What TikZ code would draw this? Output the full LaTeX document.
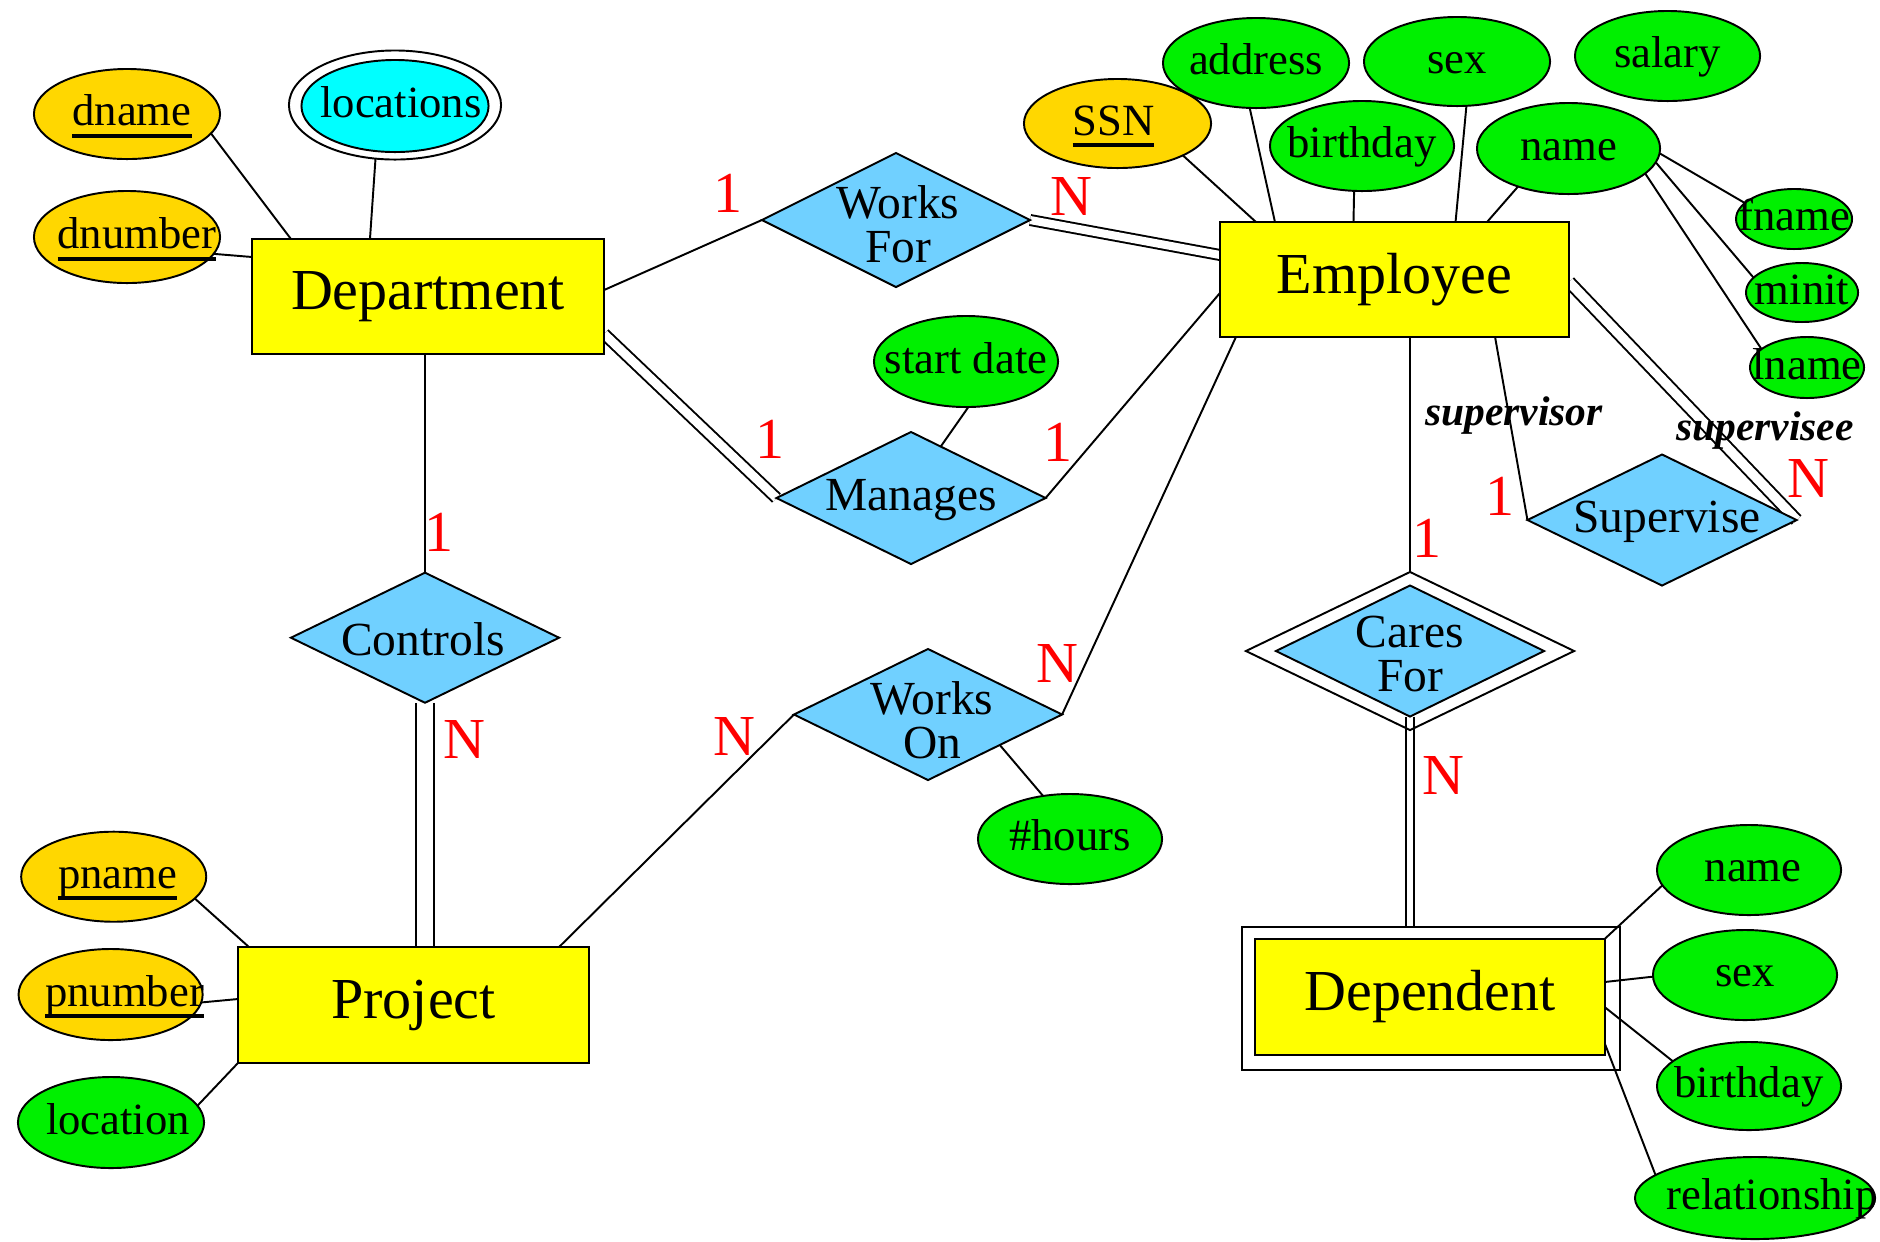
\documentclass[tikz,border=0pt]{standalone}
\usepackage{fontspec}
\setmainfont{Liberation Serif}
\usetikzlibrary{shapes.geometric,backgrounds}

\definecolor{entfill}{HTML}{FFFF00}
\definecolor{keyfill}{HTML}{FFD700}
\definecolor{attrfill}{HTML}{00F000}
\definecolor{multifill}{HTML}{00FFFF}
\definecolor{relfill}{HTML}{70D0FF}
\definecolor{cardred}{HTML}{FF0000}

% key attribute: text with a heavy underline
\newcommand{\keyattr}[1]{\sbox0{#1}\rlap{\raisebox{-3.4pt}{\rule{\wd0}{1.1pt}}}\usebox0}

\begin{document}
\begin{tikzpicture}[x=0.01cm, y=-0.01cm,
  outline/.style={draw=black, line width=0.55pt, inner sep=0pt, outer sep=0pt},
  entity/.style={outline, rectangle, fill=entfill, font=\fontsize{16.5}{19}\selectfont},
  weakframe/.style={outline, rectangle, fill=none},
  attr/.style={outline, ellipse, fill=attrfill},
  keyattr/.style={outline, ellipse, fill=keyfill},
  multiattr/.style={outline, ellipse, fill=multifill},
  multiframe/.style={outline, ellipse, fill=white},
  rel/.style={outline, diamond, fill=relfill},
  relframe/.style={outline, diamond, fill=none},
  attrtxt/.style={inner sep=0pt, text height=8.7pt, text depth=2.1pt, font=\fontsize{12.7}{15}\selectfont},
  reltxt/.style={inner sep=0pt, align=center, font=\fontsize{13.5}{12.6}\selectfont},
  card/.style={inner sep=0pt, text=cardred, font=\fontsize{16.5}{19}\selectfont},
  role/.style={inner sep=0pt, font=\fontsize{11.8}{14}\selectfont\bfseries\itshape},
  link/.style={draw=black, line width=0.55pt},
  dlink/.style={link, double, double distance=#1},
  dlink/.default=2.3pt,
]
\useasboundingbox (0,0) rectangle (1880,1241);

% ---------------- entities ----------------
\node[entity, minimum width=3.52cm, minimum height=1.15cm] (dept) at (428,296.5) {Department};
\node[entity, minimum width=3.49cm, minimum height=1.15cm] (emp) at (1394.5,279.5) {Employee};
\node[entity, minimum width=3.51cm, minimum height=1.16cm] (proj) at (413.5,1005) {Project};
\node[weakframe, minimum width=3.77cm, minimum height=1.43cm] (depframe) at (1431,998.5) {};
\node[entity, minimum width=3.49cm, minimum height=1.16cm] (dep) at (1430,997) {Dependent};

% ---------------- relationships ----------------
\node[rel, minimum width=2.68cm, minimum height=1.34cm] (worksfor) at (896,220) {};
\node[reltxt] (worksfor-t) at (898,224) {Works\\For};
\node[rel, minimum width=2.69cm, minimum height=1.32cm] (manages) at (911,498) {};
\node[reltxt] (manages-t) at (911,500) {Manages};
\node[rel, minimum width=2.68cm, minimum height=1.30cm] (controls) at (425,637.7) {};
\node[reltxt] (controls-t) at (423,639) {Controls};
\node[rel, minimum width=2.68cm, minimum height=1.31cm] (workson) at (928,714.5) {};
\node[reltxt] (workson-t) at (932,720) {Works\\On};
\node[rel, minimum width=2.69cm, minimum height=1.31cm] (supervise) at (1662,520) {};
\node[reltxt] (supervise-t) at (1667,522) {Supervise};
\node[relframe, minimum width=3.28cm, minimum height=1.58cm] (caresframe) at (1410,651) {};
\node[rel, minimum width=2.68cm, minimum height=1.31cm] (caresfor) at (1410,651) {};
\node[reltxt] (caresfor-t) at (1410,654) {Cares\\For};

% ---------------- attributes ----------------
% Department
\node[keyattr, minimum width=1.86cm, minimum height=0.90cm] (dname) at (127,114) {};
\node[attrtxt] (dname-t) at ([xshift=0.05cm]dname) {\keyattr{dname}};
\node[keyattr, minimum width=1.86cm, minimum height=0.92cm] (dnumber) at (127,237) {};
\node[attrtxt] (dnumber-t) at ([xshift=0.10cm]dnumber) {\keyattr{dnumber}};
\node[multiframe, minimum width=2.12cm, minimum height=1.09cm] (locframe) at (395,105) {};
\node[multiattr, minimum width=1.87cm, minimum height=0.92cm] (locations) at (395,106) {};
\node[attrtxt] (locations-t) at ([xshift=0.06cm]locations) {locations};

% Employee
\node[keyattr, minimum width=1.87cm, minimum height=0.89cm] (ssn) at (1117.5,123.5) {};
\node[attrtxt] (ssn-t) at ([xshift=-0.04cm]ssn) {\keyattr{SSN}};
\node[attr, minimum width=1.86cm, minimum height=0.90cm] (address) at (1256,63) {};
\node[attrtxt] (address-t) at (address) {address};
\node[attr, minimum width=1.86cm, minimum height=0.89cm] (esex) at (1457,61.5) {};
\node[attrtxt] (esex-t) at (esex) {sex};
\node[attr, minimum width=1.85cm, minimum height=0.90cm] (salary) at (1667.5,56) {};
\node[attrtxt] (salary-t) at (salary) {salary};
\node[attr, minimum width=1.84cm, minimum height=0.90cm] (ebday) at (1362,146) {};
\node[attrtxt] (ebday-t) at (ebday) {birthday};
\node[attr, minimum width=1.83cm, minimum height=0.91cm] (ename) at (1568.5,148.5) {};
\node[attrtxt] (ename-t) at (ename) {name};
\node[attr, minimum width=1.16cm, minimum height=0.60cm] (fname) at (1794,219) {};
\node[attrtxt] (fname-t) at (fname) {fname};
\node[attr, minimum width=1.12cm, minimum height=0.59cm] (minit) at (1802,292.5) {};
\node[attrtxt] (minit-t) at (minit) {minit};
\node[attr, minimum width=1.14cm, minimum height=0.61cm] (lname) at (1807,367.5) {};
\node[attrtxt] (lname-t) at (lname) {lname};

% relationship attributes
\node[attr, minimum width=1.84cm, minimum height=0.91cm] (startdate) at (966,361.5) {};
\node[attrtxt] (startdate-t) at (startdate) {start date};
\node[attr, minimum width=1.84cm, minimum height=0.90cm] (hours) at (1070,839) {};
\node[attrtxt] (hours-t) at (hours) {\#hours};

% Project
\node[keyattr, minimum width=1.85cm, minimum height=0.90cm] (pname) at (113.7,876.7) {};
\node[attrtxt] (pname-t) at ([xshift=0.04cm]pname) {\keyattr{pname}};
\node[keyattr, minimum width=1.84cm, minimum height=0.91cm] (pnumber) at (110.6,994.5) {};
\node[attrtxt] (pnumber-t) at ([xshift=0.14cm]pnumber) {\keyattr{pnumber}};
\node[attr, minimum width=1.86cm, minimum height=0.91cm] (plocation) at (111,1122.5) {};
\node[attrtxt] (plocation-t) at ([xshift=0.07cm]plocation) {location};

% Dependent
\node[attr, minimum width=1.84cm, minimum height=0.90cm] (dname2) at (1749,870) {};
\node[attrtxt] (dname2-t) at ([xshift=0.04cm]dname2) {name};
\node[attr, minimum width=1.84cm, minimum height=0.90cm] (dsex) at (1745,975) {};
\node[attrtxt] (dsex-t) at (dsex) {sex};
\node[attr, minimum width=1.84cm, minimum height=0.88cm] (dbday) at (1749,1086) {};
\node[attrtxt] (dbday-t) at (dbday) {birthday};
\node[attr, minimum width=2.40cm, minimum height=0.82cm] (relationship) at (1755,1198) {};
\node[attrtxt] (relationship-t) at ([xshift=0.17cm]relationship) {relationship};

% ---------------- cardinalities and roles ----------------
\node[card] (c-dw) at (728,193) {1};
\node[card] (c-we) at (1071,196) {N};
\node[card] (c-dm) at (770,439) {1};
\node[card] (c-me) at (1058,442) {1};
\node[card] (c-dc) at (439,532) {1};
\node[card] (c-cp) at (464,739) {N};
\node[card] (c-wp) at (734,736.5) {N};
\node[card] (c-wo) at (1057,663) {N};
\node[card] (c-ec) at (1427,538) {1};
\node[card] (c-cd) at (1443,775.5) {N};
\node[card] (c-es) at (1500,496) {1};
\node[card] (c-ss) at (1808,478) {N};
\node[role, anchor=base] (r-sup) at (1514,425) {supervisor};
\node[role, anchor=base] (r-sub) at (1765,440) {supervisee};

% ---------------- connectors (behind the shapes) ----------------
\begin{pgfonlayer}{background}
  \fill[white] (0,0) rectangle (1880,1241);
  % Department
  \draw[link] (dname.-13) -- ([xshift=0.39cm]dept.north west);
  \draw[link] (dnumber.-11) -- ([yshift=-0.18cm]dept.north west);
  \draw[link] (locframe.250) -- ([xshift=1.18cm]dept.north west);
  \draw[link] ([yshift=-0.51cm]dept.north east) -- (worksfor.west);
  \draw[dlink=2.3pt] (worksfor.east) -- ([yshift=-0.33cm]emp.north west);
  \draw[dlink=2.5pt] ([yshift=-0.95cm]dept.north east) -- (manages.west);
  \draw[link] (manages.east) -- ([yshift=-0.71cm]emp.north west);
  \draw[link] (startdate.-87) -- (manages.60);
  \draw[link] (controls.north |- dept.south) -- (controls.north);
  \draw[dlink=4.5pt] (controls.south) -- (controls.south |- proj.north);
  % Project
  \draw[link] (pname.-15) -- ([xshift=0.11cm]proj.north west);
  \draw[link] (pnumber.-5) -- ([yshift=-0.52cm]proj.north west);
  \draw[link] (plocation.11) -- (proj.south west);
  \draw[link] ([xshift=-0.30cm]proj.north east) -- (workson.west);
  \draw[link] (workson.east) -- ([xshift=0.16cm]emp.south west);
  \draw[link] (workson.-23) -- (hours.122);
  % Employee
  \draw[link] (ssn.-26) -- ([xshift=0.36cm]emp.north west);
  \draw[link] (address.-98) -- ([xshift=0.55cm]emp.north west);
  \draw[link] (ebday.-100) -- ([xshift=1.335cm]emp.north west);
  \draw[link] (esex.-78) -- ([xshift=2.355cm]emp.north west);
  \draw[link] (ename.217) -- ([xshift=2.67cm]emp.north west);
  \draw[link] (ename.-3) -- (fname.162);
  \draw[link] (ename.-9) -- (minit.163);
  \draw[link] (ename.-18) -- (lname.158);
  \draw[link] ([xshift=2.75cm]emp.south west) -- (supervise.west);
  \draw[dlink=2.7pt] ([yshift=-0.60cm]emp.north east) -- (supervise.east);
  \draw[link] (caresframe.north |- emp.south) -- (caresframe.north);
  \draw[dlink=1.7pt] (caresfor.south) -- (caresfor.south |- depframe.north);
  % Dependent
  \draw[link] (dname2.190) -- (dep.north east);
  \draw[link] (dsex.181) -- ([yshift=-0.43cm]dep.north east);
  \draw[link] (dbday.162) -- ([yshift=-0.68cm]dep.north east);
  \draw[link] (relationship.167) -- ([yshift=-1.04cm]dep.north east);
\end{pgfonlayer}
\end{tikzpicture}
\end{document}
